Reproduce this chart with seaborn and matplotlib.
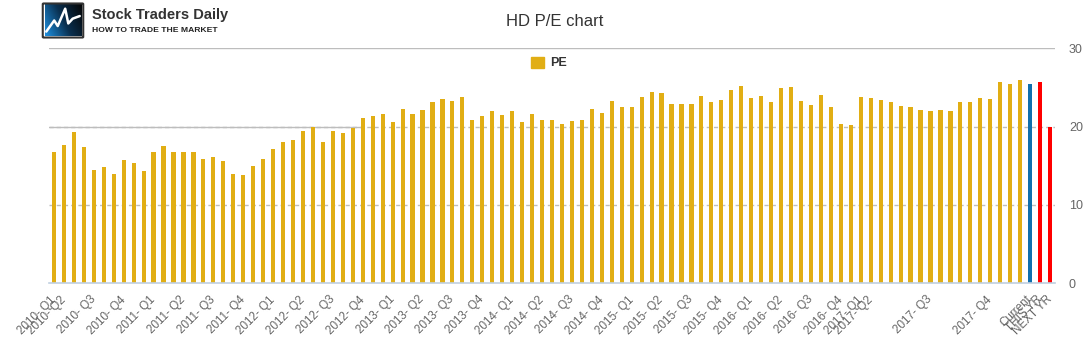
import numpy as np
import pandas as pd
import seaborn as sns
import matplotlib.pyplot as plt
from matplotlib.patches import Patch, FancyBboxPatch

sns.set_style('white')
plt.rcParams['font.family'] = ['Liberation Sans', 'DejaVu Sans']

# Monthly P/E readings, followed by current / this year / next year
pe_hist = [16.8, 17.6, 19.3, 17.4, 14.5, 14.8, 13.9, 15.8, 15.4, 14.4,
           16.7, 17.5, 16.8, 16.7, 16.8, 15.9, 16.1, 15.6, 14.0, 13.8,
           15.0, 15.9, 17.1, 18.0, 18.3, 19.4, 20.0, 18.0, 19.4, 19.2,
           19.8, 21.1, 21.3, 21.6, 20.6, 22.2, 21.6, 22.1, 23.1, 23.5,
           23.3, 23.8, 20.8, 21.3, 22.0, 21.5, 22.0, 20.6, 21.6, 20.9,
           20.9, 20.4, 20.7, 20.8, 22.2, 21.8, 23.3, 22.5, 22.5, 23.8,
           24.4, 24.3, 22.9, 22.9, 22.9, 23.9, 23.1, 23.4, 24.7, 25.2,
           23.6, 23.9, 23.1, 24.9, 25.0, 23.3, 22.7, 24.0, 22.5, 20.4,
           20.2, 23.8, 23.6, 23.4, 23.2, 22.6, 22.5, 22.1, 22.0, 22.1,
           22.0, 23.2, 23.1, 23.6, 23.5, 25.7, 25.4, 25.9]
pe_current = [25.4]
pe_estimates = [25.7, 20.0]

quarter_labels = ['2010- Q1', '2010- Q2', '2010- Q3', '2010- Q4',
                  '2011- Q1', '2011- Q2', '2011- Q3', '2011- Q4',
                  '2012- Q1', '2012- Q2', '2012- Q3', '2012- Q4',
                  '2013- Q1', '2013- Q2', '2013- Q3', '2013- Q4',
                  '2014- Q1', '2014- Q2', '2014- Q3', '2014- Q4',
                  '2015- Q1', '2015- Q2', '2015- Q3', '2015- Q4',
                  '2016- Q1', '2016- Q2', '2016- Q3', '2016- Q4',
                  '2017- Q1', '2017- Q2', '2017- Q3', '2017- Q4']
# bar index where each quarter starts
quarter_start = [0, 1, 4, 7, 10, 13, 16, 19, 22, 25, 28, 31, 34, 37, 40, 43,
                 46, 49, 52, 55, 58, 61, 64, 67, 70, 73, 76, 79, 81, 82, 88, 94]
extra_labels = ['Current', 'THIS YR', 'NEXT YR']

gold = '#E1AE14'
blue = '#0F6FAE'
red = '#FF0000'

values = pe_hist + pe_current + pe_estimates
kinds = ['PE'] * len(pe_hist) + ['Current'] * len(pe_current) + ['Est'] * len(pe_estimates)
df = pd.DataFrame({'idx': np.arange(len(values)), 'pe': values, 'kind': kinds})

fig = plt.figure(figsize=(10.91, 3.5), dpi=100)
ax = fig.add_axes([49 / 1091, 1 - 283.3 / 350, (1055 - 49) / 1091, (283.3 - 48.3) / 350])

sns.barplot(data=df, x='idx', y='pe', hue='kind', dodge=False, width=0.42,
            palette={'PE': gold, 'Current': blue, 'Est': red},
            legend=False, saturation=1, linewidth=0, ax=ax, zorder=2)

n = len(values)
ax.set_xlim(-0.5, n - 0.5)
ax.set_ylim(0, 30)

# gridlines
grid_c = '#BDBDBD'
ax.axhline(30, color=grid_c, lw=1, zorder=0.5)
for yv in (10, 20):
    ax.axhline(yv, color=grid_c, lw=1, ls=(0, (3, 2.2)), zorder=0.5)
ax.plot([-0.5, 30.7], [20, 20], color=grid_c, lw=1, zorder=0.6)

# x axis
tick_pos = quarter_start + [len(pe_hist), len(pe_hist) + 1, len(pe_hist) + 2]
ax.set_xticks(tick_pos)
ax.set_xticklabels(quarter_labels + extra_labels, rotation=45, ha='right',
                   va='center', rotation_mode='anchor', fontsize=8.4, color='#666666')
ax.set_xticks(np.arange(-0.5, n, 1), minor=True)
ax.tick_params(axis='x', which='major', length=0, pad=10.5)
ax.tick_params(axis='x', which='minor', length=7, width=1, color='#C0D0E0')
ax.set_xlabel('')

# y axis on the right
ax.yaxis.tick_right()
ax.set_yticks([0, 10, 20, 30])
ax.tick_params(axis='y', length=0, pad=10, labelsize=9, labelcolor='#666666')
ax.set_ylabel('')

for s in ('top', 'left', 'right'):
    ax.spines[s].set_visible(False)
ax.spines['bottom'].set_color('#C0D0E0')
ax.spines['bottom'].set_linewidth(1.2)

# title and legend
fig.text(555 / 1091, 1 - 22 / 350, 'HD P/E chart', ha='center', va='center',
         fontsize=12, color='#333333')
fig.legend(handles=[Patch(color=gold)], labels=['PE'], loc='center',
           bbox_to_anchor=(549 / 1091, 1 - 63 / 350), frameon=False,
           handlelength=1.0, handleheight=1.0, handletextpad=0.5,
           prop={'weight': 'bold', 'size': 9}, labelcolor='#333333')

# logo
lax = fig.add_axes([41 / 1091, 1 - 39 / 350, 44 / 1091, 37 / 350])
grad = np.linspace(0, 1, 100)
gx, gy = np.meshgrid(grad, grad)
lax.imshow(gx * 0.7 + (1 - gy) * 0.3, cmap=sns.blend_palette(['#1E90E0', '#0A3050', '#050505'], as_cmap=True),
           extent=(0.08, 0.92, 0.08, 0.92), origin='upper', aspect='auto')
lax.add_patch(FancyBboxPatch((0.06, 0.06), 0.88, 0.88, boxstyle='round,pad=0.02',
                             fill=False, ec='#333333', lw=1.5))
lax.plot([0.12, 0.3, 0.38, 0.55, 0.62, 0.72, 0.88],
         [0.2, 0.5, 0.35, 0.82, 0.42, 0.55, 0.62], color='white', lw=1.8)
lax.set_xlim(0, 1)
lax.set_ylim(0, 1)
lax.axis('off')
fig.text(92 / 1091, 1 - 15 / 350, 'Stock Traders Daily', ha='left', va='center',
         fontsize=10.5, fontweight='bold', color='#333333')
fig.text(92 / 1091, 1 - 30 / 350, 'HOW TO TRADE THE MARKET', ha='left', va='center',
         fontsize=6.1, fontweight='bold', color='#222222')

fig.savefig('out.png', dpi=100)
